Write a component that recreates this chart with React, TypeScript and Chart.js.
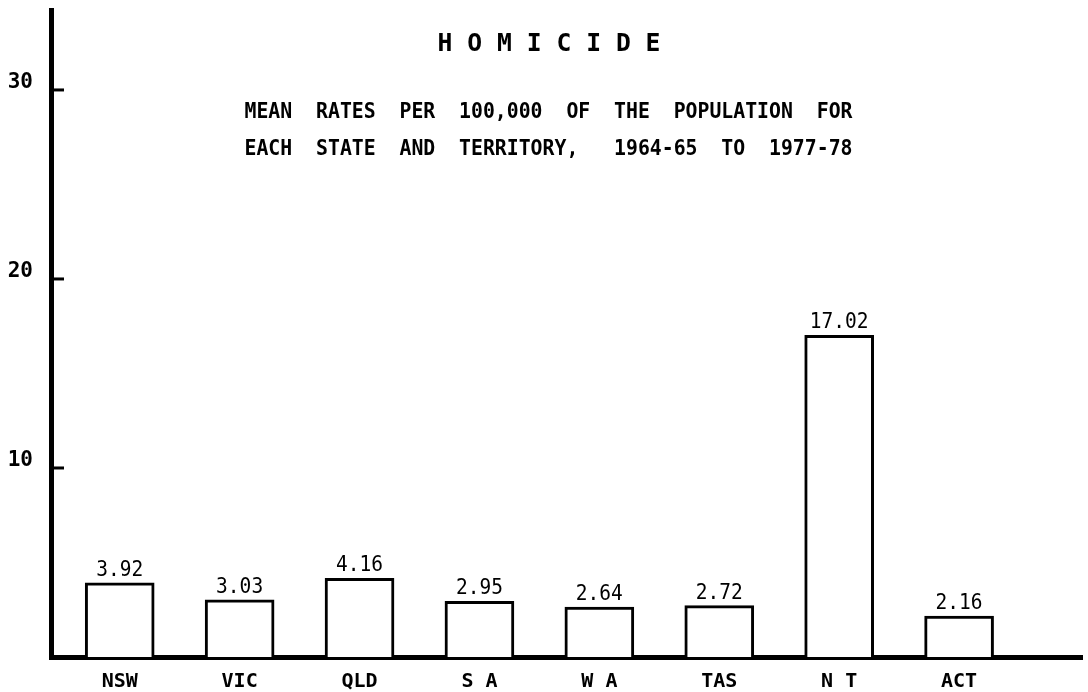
import React, { useEffect, useRef } from "react";
import { Chart, registerables } from "chart.js";

Chart.register(...registerables);

const categories = ["NSW", "VIC", "QLD", "S A", "W A", "TAS", "N T", "ACT"];
const rates = [3.92, 3.03, 4.16, 2.95, 2.64, 2.72, 17.02, 2.16];
const rateLabels = ["3.92", "3.03", "4.16", "2.95", "2.64", "2.72", "17.02", "2.16"];
const yTickValues = [10, 20, 30];
const titleText = "H O M I C I D E";
const subtitleLines = [
  "MEAN  RATES  PER  100,000  OF  THE  POPULATION  FOR",
  "EACH  STATE  AND  TERRITORY,   1964-65  TO  1977-78",
];

const FONT = "'DejaVu Sans Mono', 'Liberation Mono', monospace";

function drawScaled(ctx: CanvasRenderingContext2D, text: string, x: number, y: number, sx: number) {
  ctx.save();
  ctx.translate(x, y);
  ctx.scale(sx, 1);
  ctx.fillText(text, 0, 0);
  ctx.restore();
}

const decorPlugin = {
  id: "decor",
  afterDatasetsDraw(chart: any) {
    const ctx: CanvasRenderingContext2D = chart.ctx;
    const yScale = chart.scales.y;
    const left = chart.chartArea.left;
    ctx.save();
    ctx.strokeStyle = "#000";
    ctx.fillStyle = "#000";
    ctx.lineWidth = 3;
    yTickValues.forEach((v) => {
      const py = yScale.getPixelForValue(v);
      ctx.beginPath();
      ctx.moveTo(left, py);
      ctx.lineTo(left + 13, py);
      ctx.stroke();
    });

    ctx.textAlign = "center";
    ctx.textBaseline = "alphabetic";
    ctx.font = `21px ${FONT}`;
    const meta = chart.getDatasetMeta(0);
    meta.data.forEach((bar: any, i: number) => {
      drawScaled(ctx, rateLabels[i], bar.x, bar.y - 7, 0.93);
    });

    ctx.font = `bold 24.7px ${FONT}`;
    ctx.fillText(titleText, 549, 51);

    ctx.font = `bold 22px ${FONT}`;
    drawScaled(ctx, subtitleLines[0], 548.5, 118, 0.9);
    drawScaled(ctx, subtitleLines[1], 548.5, 155, 0.9);
    ctx.restore();
  },
};

export default function App() {
  const canvasRef = useRef<HTMLCanvasElement | null>(null);

  useEffect(() => {
    document.body.style.margin = "0";
    const canvas = canvasRef.current;
    if (!canvas) return;
    const chart = new Chart(canvas, {
      type: "bar",
      data: {
        datasets: [
          {
            label: "Homicide rate",
            data: rates.map((v, i) => ({ x: i, y: v })),
            backgroundColor: "#ffffff",
            borderColor: "#000000",
            borderWidth: 3,
            barThickness: 69,
          },
        ],
      },
      options: {
        animation: false,
        responsive: true,
        maintainAspectRatio: false,
        layout: { padding: { top: 10, right: 6, left: 0, bottom: 0 } },
        plugins: {
          legend: { display: false },
          tooltip: { enabled: false },
          title: { display: false },
        },
        scales: {
          x: {
            type: "linear",
            min: -0.573,
            max: 8.025,
            offset: false,
            grid: { display: false, drawTicks: false },
            border: { display: true, color: "#000", width: 5 },
            afterBuildTicks: (s: any) => {
              s.ticks = categories.map((_, i) => ({ value: i }));
            },
            afterFit: (s: any) => {
              s.height = 35;
              s.paddingLeft = 0;
              s.paddingRight = 0;
            },
            ticks: {
              autoSkip: false,
              maxRotation: 0,
              padding: 13,
              color: "#000",
              font: { family: FONT, size: 20, weight: "bold" },
              callback: (v: any) => categories[v] ?? "",
            },
          },
          y: {
            min: 0,
            max: 34.23,
            grid: { display: false, drawTicks: false },
            border: { display: true, color: "#000", width: 5 },
            afterBuildTicks: (s: any) => {
              s.ticks = yTickValues.map((v) => ({ value: v }));
            },
            afterFit: (s: any) => {
              s.width = 51;
              s.paddingTop = 0;
              s.paddingBottom = 0;
            },
            ticks: {
              padding: 18,
              color: "#000",
              font: { family: FONT, size: 21, weight: "bold", lineHeight: "14px" },
              callback: (v: any) => [String(v), ""],
            },
          },
        },
      } as any,
      plugins: [decorPlugin],
    });
    return () => chart.destroy();
  }, []);

  return (
    <div style={{ position: "relative", width: "1088px", height: "692px" }}>
      <canvas ref={canvasRef} />
    </div>
  );
}
